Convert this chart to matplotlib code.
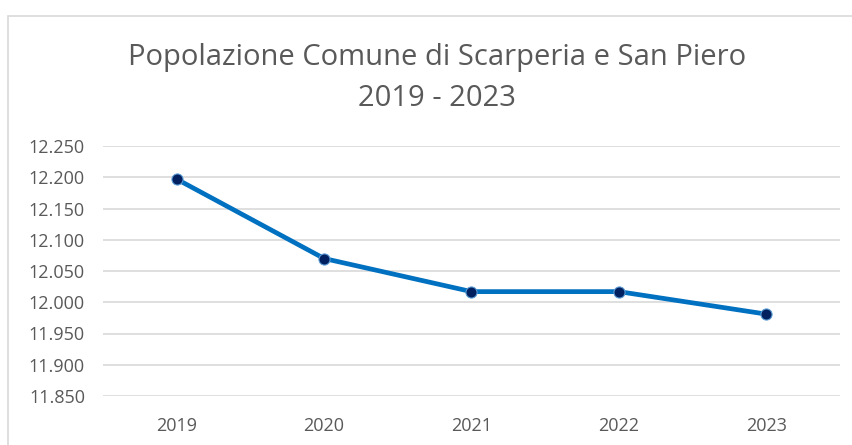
import matplotlib.pyplot as plt
from matplotlib.ticker import FuncFormatter
from matplotlib.patches import Rectangle

anni = ["2019", "2020", "2021", "2022", "2023"]
popolazione = [12197, 12070, 12017, 12017, 11981]
yticks = [11850, 11900, 11950, 12000, 12050, 12100, 12150, 12200, 12250]

plt.rcParams['font.family'] = ['Open Sans', 'DejaVu Sans']

fig = plt.figure(figsize=(8.53, 4.45), dpi=100)
fig.patches.append(Rectangle((8/853, -0.01), 2, 1 - 16/445 + 0.01, transform=fig.transFigure,
                             fill=False, edgecolor="#d9d9d9", linewidth=1.2))

ax = fig.add_axes([103/853, 1 - 396/445, (840 - 103)/853, (396 - 146)/445])
x = range(len(anni))
ax.plot(x, popolazione, color="#0070c0", linewidth=3.4, marker="o", markersize=8,
        markerfacecolor="#002060", markeredgecolor="#5b9bd5", markeredgewidth=0.8,
        solid_capstyle="round", zorder=3)

ax.set_xlim(-0.5, len(anni) - 0.5)
ax.set_ylim(yticks[0], yticks[-1])
ax.set_yticks(yticks)
ax.yaxis.set_major_formatter(FuncFormatter(lambda v, p: f"{v:,.0f}".replace(",", ".")))
ax.set_xticks(list(x))
ax.set_xticklabels(anni)
ax.grid(axis="y", color="#d9d9d9", linewidth=1.2)
ax.set_axisbelow(True)
for s in ax.spines.values():
    s.set_visible(False)
ax.tick_params(length=0, labelsize=13, labelcolor="#595959")
ax.tick_params(axis="y", pad=13)
ax.tick_params(axis="x", pad=15)

fig.text(437/853, 1 - 57/445, "Popolazione Comune di Scarperia e San Piero", ha="center", va="center",
         fontsize=21, color="#595959")
fig.text(437/853, 1 - 99/445, "2019 - 2023", ha="center", va="center", fontsize=21, color="#595959")

fig.savefig("out.png", dpi=100)
